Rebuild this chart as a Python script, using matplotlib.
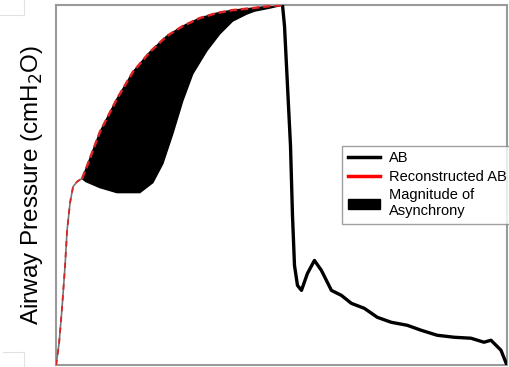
import numpy as np
import matplotlib
matplotlib.use("Agg")
import matplotlib.pyplot as plt
from matplotlib.lines import Line2D
from matplotlib.patches import Patch

plt.rcParams['font.family'] = ['Liberation Sans', 'DejaVu Sans']

# traced waveform (arbitrary units: time, pressure)
rise_t = [0, 3, 6, 9, 11, 14, 17, 21, 24, 26]
rise_p = [0, 22, 58, 100, 135, 163, 179, 184, 186, 187]

recon_t = [26, 30, 44, 61, 77, 94, 111, 127, 144, 161, 177, 197, 214, 227]
recon_p = [187, 197, 234, 267, 294, 314, 330, 340, 348, 353, 356, 358, 360, 361]

ab_t = [26, 30, 44, 61, 84, 97, 107, 117, 127, 137, 151, 164, 177, 191, 199, 214, 227]
ab_p = [187, 184, 178, 173, 173, 183, 202, 232, 265, 292, 315, 332, 345, 352, 355, 358, 361]

decay_t = [227, 229, 232, 235, 237, 239, 242, 246, 252, 259, 266, 276, 286, 296,
           309, 322, 336, 352, 366, 382, 399, 416, 429, 436, 446, 450, 452]
decay_p = [361, 340, 280, 220, 150, 100, 80, 75, 92, 105, 95, 75, 70, 62,
           57, 48, 43, 40, 35, 30, 28, 27, 23, 25, 15, 5, 0]

fig = plt.figure(figsize=(5.1, 3.67), dpi=100)
ax = fig.add_axes([0.110, 0.005, 0.884, 0.981])

# shaded asynchrony region
poly_t = np.concatenate([recon_t, ab_t[::-1]])
poly_p = np.concatenate([recon_p, ab_p[::-1]])
ax.fill(poly_t, poly_p, color='black', zorder=2)

ax.plot(rise_t, rise_p, color='#777777', lw=1.2, zorder=3)
ax.plot(rise_t, rise_p, color='#dd2222', lw=1.3, ls=(0, (3, 3)), zorder=4)
ax.plot(recon_t, recon_p, color='#dd2222', lw=1.8, ls=(0, (3, 1.5)), zorder=4)
ax.plot(decay_t, decay_p, color='black', lw=2.4, zorder=3)

ax.set_xlim(0, 452)
ax.set_ylim(0, 361)
ax.set_xticks([])
ax.set_yticks([])
for s in ax.spines.values():
    s.set_color('#9a9a9a')
    s.set_linewidth(1.5)

ax.set_ylabel('Airway Pressure (cmH$_2$O)', fontsize=17.5, labelpad=8)

handles = [Line2D([], [], color='black', lw=2.5),
           Line2D([], [], color='red', lw=2.5),
           Patch(facecolor='black', edgecolor='black')]
labels = ['AB', 'Reconstructed AB', 'Magnitude of\nAsynchrony']
leg = ax.legend(handles, labels, loc='upper left', bbox_to_anchor=(0.635, 0.61),
                fontsize=10.5, frameon=True, fancybox=False, edgecolor='#888888',
                handlelength=2.2, handletextpad=0.6, borderpad=0.4, labelspacing=0.3,
                borderaxespad=0)
leg.get_frame().set_linewidth(1.0)

# faint crop marks at the left edge of the source image
fig.add_artist(Line2D([0.047, 0.047], [0.96, 1.0], color='#e2e2e2', lw=0.8))
fig.add_artist(Line2D([0.0, 0.047], [0.96, 0.96], color='#e2e2e2', lw=0.8))
fig.add_artist(Line2D([0.006, 0.047], [0.04, 0.04], color='#e2e2e2', lw=0.8))
fig.add_artist(Line2D([0.047, 0.047], [0.0, 0.04], color='#e2e2e2', lw=0.8))

fig.savefig('out.png', dpi=100)
